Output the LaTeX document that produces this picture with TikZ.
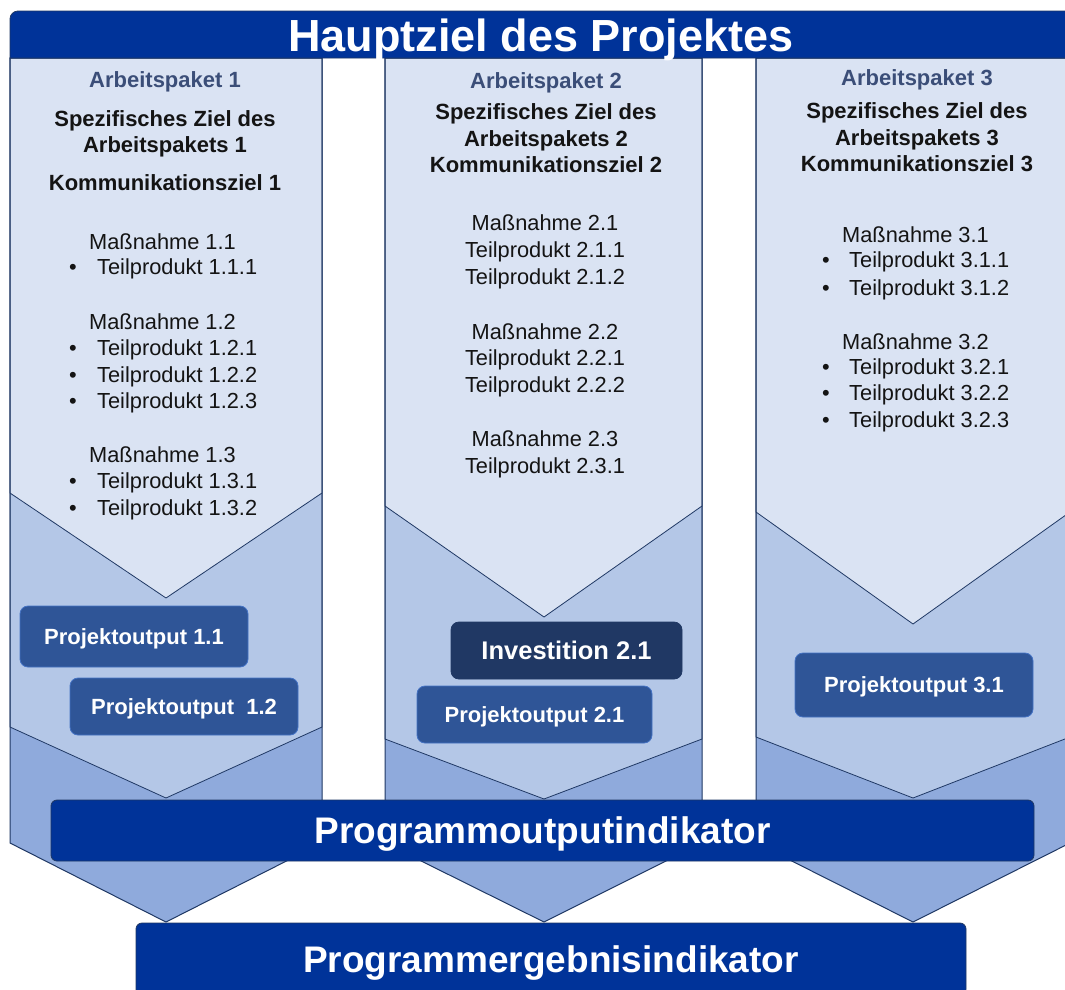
\documentclass[tikz,border=0pt]{standalone}
\usepackage{fontspec}
\setmainfont{Liberation Sans}
\definecolor{banner}{RGB}{0,51,153}
\definecolor{lightfill}{RGB}{218,227,243}
\definecolor{midfill}{RGB}{180,199,231}
\definecolor{deepfill}{RGB}{143,170,220}
\definecolor{edgecol}{RGB}{31,56,100}
\definecolor{outfill}{RGB}{47,85,151}
\definecolor{outedge}{RGB}{68,114,196}
\definecolor{invfill}{RGB}{32,56,100}
\definecolor{apcol}{RGB}{59,78,120}
\definecolor{bodytext}{RGB}{20,20,20}
\begin{document}
\begin{tikzpicture}[x=1pt,y=-1pt,
  coledge/.style={draw=edgecol, line width=1pt},
  chevline/.style={draw=edgecol, line width=0.8pt},
  body/.style={font=\fontsize{21.8}{26}\selectfont, inner sep=0pt, text=bodytext},
  bodyl/.style={body, anchor=base west},
  bodyc/.style={body, anchor=base},
  bul/.style={body, anchor=base},
  head/.style={font=\fontsize{22}{26}\selectfont\bfseries, inner sep=0pt, anchor=base, text=bodytext},
  aphead/.style={head, text=apcol},
  outbox/.style={fill=outfill, draw=outedge, line width=0.8pt, rounded corners=8pt,
    text=white, font=\fontsize{22}{26}\selectfont\bfseries, inner sep=0pt,
    text height=15.75pt, text depth=0pt},
  invbox/.style={outbox, fill=invfill, draw=invfill, font=\fontsize{25.5}{30}\selectfont\bfseries,
    text height=18.3pt},
  bigbox/.style={fill=banner, draw=edgecol, line width=0.8pt, rounded corners=6pt,
    text=white, font=\fontsize{37}{42}\selectfont\bfseries, inner sep=0pt,
    text height=26.5pt, text depth=0pt}
]
\useasboundingbox (0,0) rectangle (1065,989);
\fill[white] (0,0) rectangle (1065,989);

% ---------- column 1 ----------
\fill[deepfill] (10,58) -- (322,58) -- (322,843) -- (166,922) -- (10,843) -- cycle;
\filldraw[fill=midfill, chevline] (10,58) -- (322,58) -- (322,727) -- (166,798) -- (10,727) -- cycle;
\filldraw[fill=lightfill, chevline] (10,58) -- (322,58) -- (322,493) -- (166,598) -- (10,493) -- cycle;
\draw[coledge] (10,58) -- (322,58) -- (322,843) -- (166,922) -- (10,843) -- cycle;

% ---------- column 2 ----------
\fill[deepfill] (385,58) -- (702,58) -- (702,843) -- (544,922) -- (385,843) -- cycle;
\filldraw[fill=midfill, chevline] (385,58) -- (702,58) -- (702,739) -- (544,799) -- (385,739) -- cycle;
\filldraw[fill=lightfill, chevline] (385,58) -- (702,58) -- (702,506) -- (544,617) -- (385,506) -- cycle;
\draw[coledge] (385,58) -- (702,58) -- (702,843) -- (544,922) -- (385,843) -- cycle;

% ---------- column 3 ----------
\fill[deepfill] (756,58) -- (1070,58) -- (1070,843) -- (913,922) -- (756,843) -- cycle;
\filldraw[fill=midfill, chevline] (756,58) -- (1070,58) -- (1070,737) -- (913,798) -- (756,737) -- cycle;
\filldraw[fill=lightfill, chevline] (756,58) -- (1070,58) -- (1070,512) -- (913,624) -- (756,512) -- cycle;
\draw[coledge] (756,58) -- (1070,58) -- (1070,843) -- (913,922) -- (756,843) -- cycle;

% ---------- banner ----------
\filldraw[fill=banner, draw=edgecol, line width=0.8pt] (10,58) -- (10,19) arc[start angle=180, end angle=270, radius=8] -- (1075,11) -- (1075,58) -- cycle;
\node[font=\fontsize{45}{50}\selectfont\bfseries, text=white, inner sep=0pt, anchor=base] (title) at (541,51) {Hauptziel des Projektes};

% ---------- column 1 text ----------
\node[aphead] (ap1) at (165,87) {Arbeitspaket 1};
\node[head] (sz1a) at (165,126) {Spezifisches Ziel des};
\node[head] (sz1b) at (165,152) {Arbeitspakets 1};
\node[head] (kz1) at (165,190) {Kommunikationsziel 1};
\node[bodyl] (m11) at (89,249) {Maßnahme 1.1};
\node[bul] (b111) at (73,274) {•}; \node[bodyl] (t111) at (97,274) {Teilprodukt 1.1.1};
\node[bodyl] (m12) at (89,329) {Maßnahme 1.2};
\node[bul] (b121) at (73,355) {•}; \node[bodyl] (t121) at (97,355) {Teilprodukt 1.2.1};
\node[bul] (b122) at (73,382) {•}; \node[bodyl] (t122) at (97,382) {Teilprodukt 1.2.2};
\node[bul] (b123) at (73,408) {•}; \node[bodyl] (t123) at (97,408) {Teilprodukt 1.2.3};
\node[bodyl] (m13) at (89,462) {Maßnahme 1.3};
\node[bul] (b131) at (73,488) {•}; \node[bodyl] (t131) at (97,488) {Teilprodukt 1.3.1};
\node[bul] (b132) at (73,515) {•}; \node[bodyl] (t132) at (97,515) {Teilprodukt 1.3.2};

% ---------- column 2 text ----------
\node[aphead] (ap2) at (546,88) {Arbeitspaket 2};
\node[head] (sz2a) at (546,119) {Spezifisches Ziel des};
\node[head] (sz2b) at (546,146) {Arbeitspakets 2};
\node[head] (kz2) at (546,172) {Kommunikationsziel 2};
\node[bodyc] (m21) at (545,230) {Maßnahme 2.1};
\node[bodyc] (t211) at (545,257) {Teilprodukt 2.1.1};
\node[bodyc] (t212) at (545,284) {Teilprodukt 2.1.2};
\node[bodyc] (m22) at (545,339) {Maßnahme 2.2};
\node[bodyc] (t221) at (545,365) {Teilprodukt 2.2.1};
\node[bodyc] (t222) at (545,392) {Teilprodukt 2.2.2};
\node[bodyc] (m23) at (545,446) {Maßnahme 2.3};
\node[bodyc] (t231) at (545,473) {Teilprodukt 2.3.1};

% ---------- column 3 text ----------
\node[aphead] (ap3) at (917,85) {Arbeitspaket 3};
\node[head] (sz3a) at (917,118) {Spezifisches Ziel des};
\node[head] (sz3b) at (917,145) {Arbeitspakets 3};
\node[head] (kz3) at (917,171) {Kommunikationsziel 3};
\node[bodyl] (m31) at (842,242) {Maßnahme 3.1};
\node[bul] (b311) at (826,267) {•}; \node[bodyl] (t311) at (849,267) {Teilprodukt 3.1.1};
\node[bul] (b312) at (826,295) {•}; \node[bodyl] (t312) at (849,295) {Teilprodukt 3.1.2};
\node[bodyl] (m32) at (842,349) {Maßnahme 3.2};
\node[bul] (b321) at (826,374) {•}; \node[bodyl] (t321) at (849,374) {Teilprodukt 3.2.1};
\node[bul] (b322) at (826,400) {•}; \node[bodyl] (t322) at (849,400) {Teilprodukt 3.2.2};
\node[bul] (b323) at (826,427) {•}; \node[bodyl] (t323) at (849,427) {Teilprodukt 3.2.3};

% ---------- output boxes ----------
\node[outbox, minimum width=228pt, minimum height=61pt] (po11) at (134,636.5) {Projektoutput 1.1};
\node[outbox, minimum width=228pt, minimum height=57pt] (po12) at (184,706.5) {Projektoutput\ \ 1.2};
\node[invbox, minimum width=231pt, minimum height=57pt] (inv21) at (566.5,650.5) {Investition 2.1};
\node[outbox, minimum width=235pt, minimum height=57pt] (po21) at (534.5,714.5) {Projektoutput 2.1};
\node[outbox, minimum width=238pt, minimum height=64pt] (po31) at (914,685) {Projektoutput 3.1};

% ---------- indicator bars ----------
\node[bigbox, minimum width=983pt, minimum height=61pt] (poi) at (542.5,830.5) {Programmoutputindikator};
\node[bigbox, minimum width=830pt, minimum height=72pt] (pei) at (551,959) {Programmergebnisindikator};
\end{tikzpicture}
\end{document}
